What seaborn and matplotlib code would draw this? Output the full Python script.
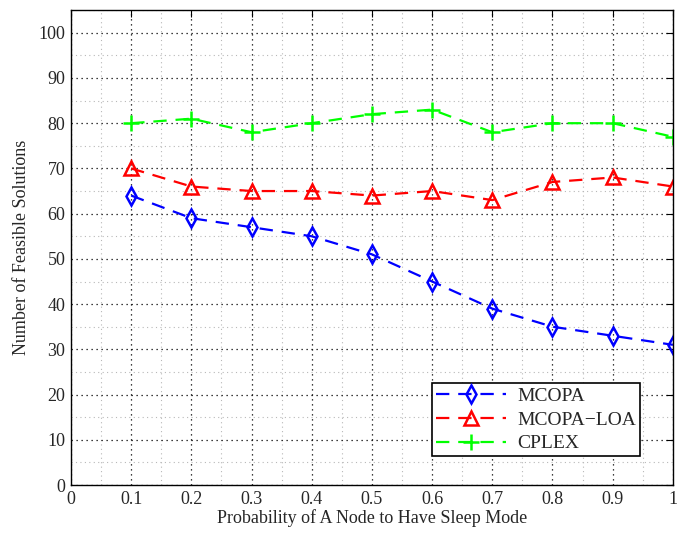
import numpy as np
import pandas as pd
import matplotlib
matplotlib.use("Agg")
import matplotlib.pyplot as plt
import seaborn as sns
from matplotlib.ticker import MultipleLocator

x_vals = [0.1, 0.2, 0.3, 0.4, 0.5, 0.6, 0.7, 0.8, 0.9, 1.0]
mcopa = [64, 59, 57, 55, 51, 45, 39, 35, 33, 31]
mcopa_loa = [70, 66, 65, 65, 64, 65, 63, 67, 68, 66]
cplex = [80, 81, 78, 80, 82, 83, 78, 80, 80, 77]
series_names = ["MCOPA", "MCOPA\u2212LOA", "CPLEX"]
colors = ["#0000ff", "#ff0000", "#00ff00"]
markers = ["d", "^", "+"]
msizes = [9, 10.5, 11]

sns.set_style("white")
plt.rcParams['font.family'] = ['Liberation Serif', 'DejaVu Serif']

fig = plt.figure(figsize=(6.77, 5.33), dpi=100)
ax = fig.add_axes([0.1049, 0.09, 0.889, 0.891])

df = pd.DataFrame({"x": x_vals * 3,
                   "y": mcopa + mcopa_loa + cplex,
                   "s": sum([[n] * len(x_vals) for n in series_names], [])})

for name, c, m, ms in zip(series_names, colors, markers, msizes):
    sub = df[df.s == name]
    kw = dict(color=c, linestyle=(0, (6, 4)), linewidth=1.6, marker=m,
              markersize=ms, markeredgewidth=1.8, markeredgecolor=c, label=name)
    if m != "+":
        kw["markerfacecolor"] = "none"
    sns.lineplot(data=sub, x="x", y="y", ax=ax, **kw)

ax.set_xlim(0, 1)
ax.set_ylim(0, 105)
ax.xaxis.set_major_locator(MultipleLocator(0.1))
ax.xaxis.set_minor_locator(MultipleLocator(0.05))
ax.yaxis.set_major_locator(MultipleLocator(10))
ax.yaxis.set_minor_locator(MultipleLocator(5))
ax.set_xticklabels([("0" if abs(v) < 1e-9 else ("1" if abs(v - 1) < 1e-9 else f"{v:.1f}")) for v in ax.get_xticks()])
ax.grid(which="major", color="black", linestyle=(0, (1, 3)), linewidth=0.9)
ax.grid(which="minor", color="#b8b8b8", linestyle=(0, (1, 3)), linewidth=0.8)
ax.tick_params(which="major", direction="in", length=5, top=True, right=True,
               labelsize=13, pad=4, color="black")
ax.tick_params(which="minor", length=0)
for sp in ax.spines.values():
    sp.set_color("black")
    sp.set_linewidth(1.0)
ax.set_xlabel("Probability of A Node to Have Sleep Mode", fontsize=13, labelpad=1)
ax.set_ylabel("Number of Feasible Solutions", fontsize=13, labelpad=6)

leg = ax.legend(loc="lower right", bbox_to_anchor=(0.962, 0.04), fontsize=14,
                frameon=True, fancybox=False, edgecolor="black", framealpha=1,
                handlelength=3.6, handletextpad=0.6, borderpad=0.2, labelspacing=0.32)
leg.get_frame().set_linewidth(1.2)

fig.savefig("out.png", dpi=100)
